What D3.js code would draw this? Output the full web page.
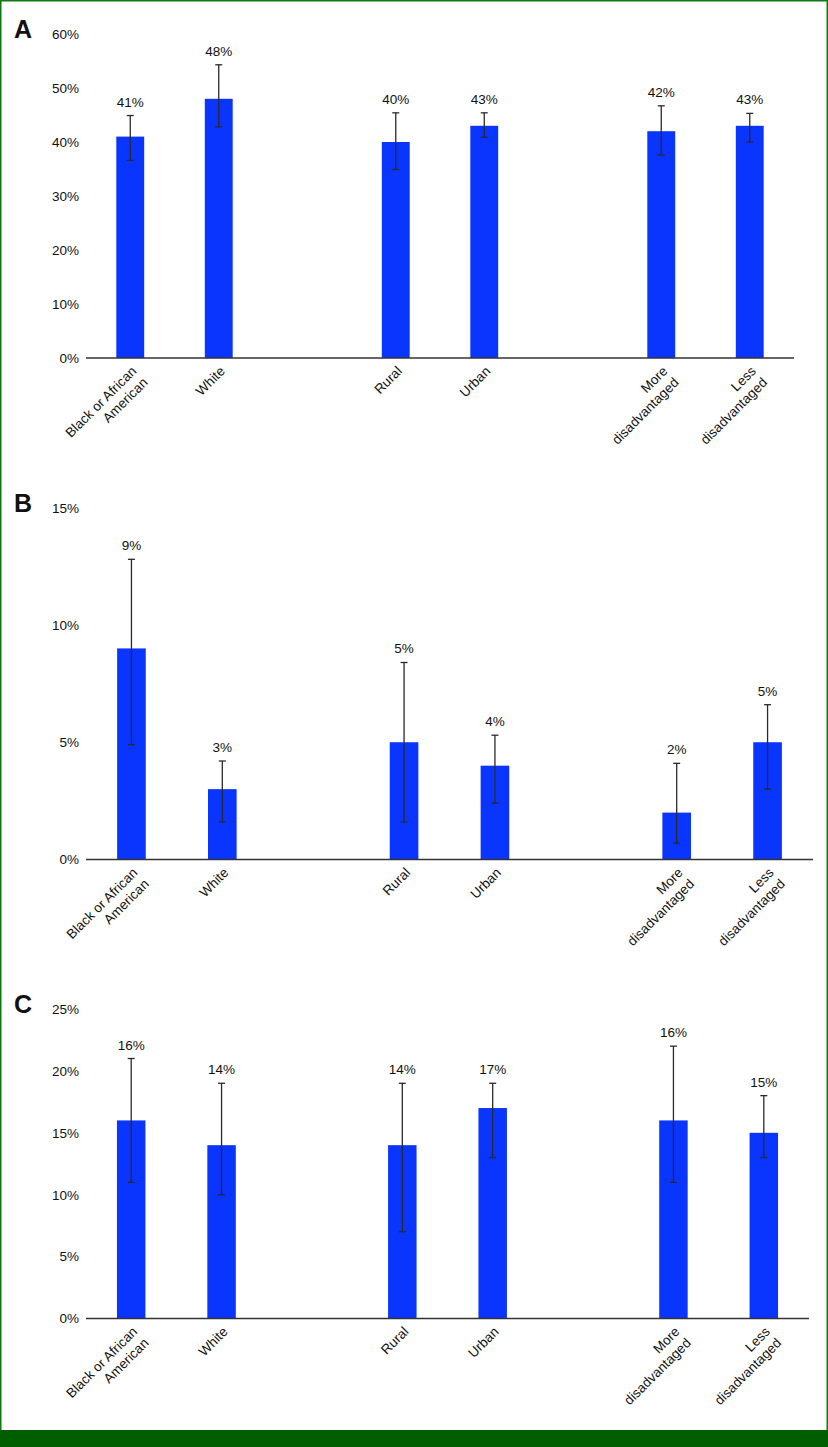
<!DOCTYPE html>
<html>
<head>
<meta charset="utf-8">
<script src="https://cdn.jsdelivr.net/npm/d3@7"></script>
<style>
  html, body { margin: 0; padding: 0; background: #fff; }
  svg { display: block; }
  text { font-family: "Liberation Sans", Arial, Helvetica, sans-serif; fill: #111; }
</style>
</head>
<body>
<svg id="chart" width="828" height="1447"></svg>
<script>
// ---- Data ----
const categories = ["Black or African American", "White", "Rural", "Urban", "More disadvantaged", "Less disadvantaged"];
const categoryLines = [["Black or African", "American"], ["White"], ["Rural"], ["Urban"], ["More", "disadvantaged"], ["Less", "disadvantaged"]];
const slotIndex = [0, 1, 3, 4, 6, 7];   // gaps between groups

const valuesA = [41, 48, 40, 43, 42, 43];
const lowerA  = [36.6, 42.8, 34.9, 40.9, 37.6, 40.0];
const upperA  = [44.9, 54.3, 45.4, 45.4, 46.7, 45.3];
const ticksA  = [0, 10, 20, 30, 40, 50, 60];

const valuesB = [9, 3, 5, 4, 2, 5];
const lowerB  = [4.9, 1.6, 1.6, 2.4, 0.7, 3.0];
const upperB  = [12.8, 4.2, 8.4, 5.3, 4.1, 6.6];
const ticksB  = [0, 5, 10, 15];

const valuesC = [16, 14, 14, 17, 16, 15];
const lowerC  = [11, 10, 7, 13, 11, 13];
const upperC  = [21, 19, 19, 19, 22, 18];
const ticksC  = [0, 5, 10, 15, 20, 25];

const panelLetters = ["A", "B", "C"];

// ---- Drawing ----
const svg = d3.select("#chart");
const W = 828, H = 1447;
const BLUE = "#0a35ff";
const FS = 13.5;

svg.append("rect").attr("x", 0).attr("y", 0).attr("width", W).attr("height", H).attr("fill", "#fff");

const panels = [
  { letter: panelLetters[0], values: valuesA, lower: lowerA, upper: upperA, ticks: ticksA,
    yTop: 34, yBottom: 358, xLeft: 86, xRight: 794, letterY: 38 },
  { letter: panelLetters[1], values: valuesB, lower: lowerB, upper: upperB, ticks: ticksB,
    yTop: 507.7, yBottom: 859.5, xLeft: 86, xRight: 813, letterY: 512 },
  { letter: panelLetters[2], values: valuesC, lower: lowerC, upper: upperC, ticks: ticksC,
    yTop: 1009, yBottom: 1318.5, xLeft: 86, xRight: 809, letterY: 1013 }
];

panels.forEach(p => {
  const g = svg.append("g");
  const maxTick = p.ticks[p.ticks.length - 1];
  const y = d3.scaleLinear().domain([0, maxTick]).range([p.yBottom, p.yTop]);
  const x = d3.scaleBand().domain(d3.range(8)).range([p.xLeft, p.xRight]).paddingInner(0.685).paddingOuter(0.3425);
  const cx = i => x(slotIndex[i]) + x.bandwidth() / 2;

  // panel letter
  g.append("text").attr("x", 14).attr("y", p.letterY)
    .attr("font-size", 25).attr("font-weight", "bold").text(p.letter);

  // y axis labels (no line)
  const yAxis = d3.axisLeft(y).tickValues(p.ticks).tickFormat(d => d + "%").tickSize(0).tickPadding(0);
  const ya = g.append("g").attr("transform", `translate(79,0)`).call(yAxis);
  ya.select(".domain").remove();
  ya.selectAll("text").attr("font-size", FS).attr("fill", "#111")
    .attr("font-family", "'Liberation Sans', Arial, sans-serif");

  // bars
  g.selectAll("rect.bar").data(p.values).enter().append("rect")
    .attr("class", "bar")
    .attr("x", (d, i) => x(slotIndex[i]))
    .attr("width", x.bandwidth())
    .attr("y", d => y(d))
    .attr("height", d => y(0) - y(d))
    .attr("fill", BLUE);

  // x axis line
  g.append("line").attr("x1", p.xLeft).attr("x2", p.xRight)
    .attr("y1", y(0)).attr("y2", y(0))
    .attr("stroke", "#333").attr("stroke-width", 1.3);

  // error bars
  const capHalf = 3.5;
  p.values.forEach((v, i) => {
    const c = cx(i);
    const eg = g.append("g").attr("stroke", "#2a2a2a").attr("stroke-width", 1.3);
    eg.append("line").attr("x1", c).attr("x2", c).attr("y1", y(p.lower[i])).attr("y2", y(p.upper[i]));
    eg.append("line").attr("x1", c - capHalf).attr("x2", c + capHalf).attr("y1", y(p.upper[i])).attr("y2", y(p.upper[i]));
    eg.append("line").attr("x1", c - capHalf).attr("x2", c + capHalf).attr("y1", y(p.lower[i])).attr("y2", y(p.lower[i]));
  });

  // value labels
  g.selectAll("text.val").data(p.values).enter().append("text")
    .attr("class", "val")
    .attr("x", (d, i) => cx(i))
    .attr("y", (d, i) => y(p.upper[i]) - 9)
    .attr("text-anchor", "middle")
    .attr("font-size", FS)
    .text(d => d + "%");

  // category labels rotated
  categoryLines.forEach((lines, i) => {
    const t = g.append("text")
      .attr("text-anchor", "end")
      .attr("font-size", FS)
      .attr("transform", `translate(${cx(i) + 7},${y(0) + 14}) rotate(-45)`);
    lines.forEach((ln, k) => {
      t.append("tspan").attr("x", 0).attr("dy", k === 0 ? 0 : "1.18em").text(ln);
    });
  });
});

// frame
svg.append("rect").attr("x", 0.75).attr("y", 0.75).attr("width", W - 1.5).attr("height", H - 1.5)
  .attr("fill", "none").attr("stroke", "#0f7a0f").attr("stroke-width", 1.5);
svg.append("rect").attr("x", 0).attr("y", 1430).attr("width", W).attr("height", H - 1430).attr("fill", "#005e00");
</script>
</body>
</html>
